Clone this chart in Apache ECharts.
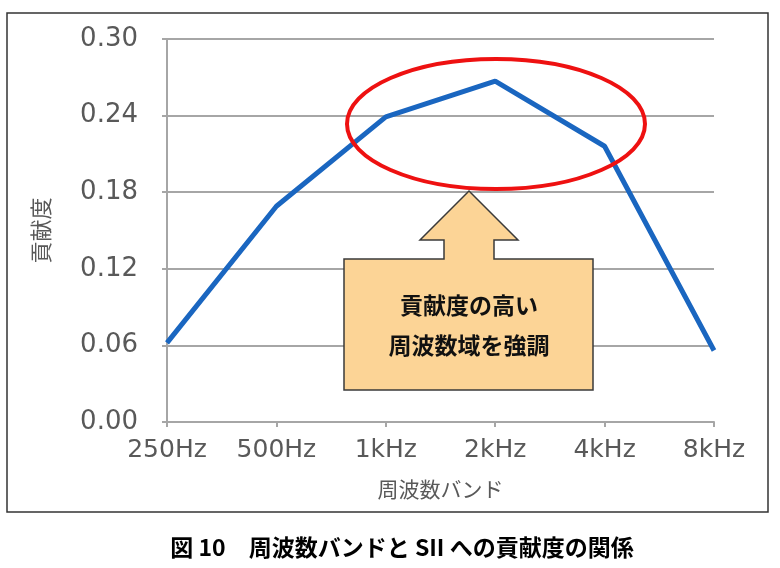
<!DOCTYPE html>
<html>
<head>
<meta charset="utf-8">
<script src="https://cdn.jsdelivr.net/npm/echarts@6/dist/echarts.min.js"></script>
<style>
  html, body { margin: 0; padding: 0; background: #fff; }
  #chart { width: 780px; height: 568px; }
</style>
</head>
<body>
<div id="chart"></div>
<script>
// 周波数バンドごとの貢献度
const bands = ['250Hz', '500Hz', '1kHz', '2kHz', '4kHz', '8kHz'];
const contribution = [0.062, 0.169, 0.239, 0.267, 0.216, 0.056];
const yTicks = { min: 0, max: 0.30, step: 0.06 };

const captionText = '図 10　周波数バンドと SII への貢献度の関係';
const calloutLines = ['貢献度の高い', '周波数域を強調'];

const myChart = echarts.init(document.getElementById('chart'));

const gray = '#595959';
const gridGray = '#a6a6a6';
const numFont = 'DejaVu Sans';

const option = {
  backgroundColor: '#fff',
  animation: false,
  grid: { left: 167, right: 66, top: 39, bottom: 146 },
  xAxis: {
    type: 'category',
    data: bands,
    boundaryGap: false,
    name: '周波数バンド',
    nameLocation: 'middle',
    nameGap: 57,
    nameTextStyle: { color: gray, fontSize: 21, fontFamily: 'Noto Sans CJK JP' },
    axisLine: { lineStyle: { color: gridGray, width: 2 } },
    axisTick: { show: true, length: 5, alignWithLabel: true, lineStyle: { color: gridGray, width: 2 } },
    axisLabel: { color: gray, fontSize: 25, fontFamily: numFont, margin: 16 }
  },
  yAxis: {
    type: 'value',
    min: yTicks.min,
    max: yTicks.max,
    interval: yTicks.step,
    name: '貢献度',
    nameLocation: 'middle',
    nameGap: 115,
    nameRotate: 90,
    nameTextStyle: { color: gray, fontSize: 22, fontFamily: 'Noto Sans CJK JP' },
    axisLine: { show: true, lineStyle: { color: gridGray, width: 2 } },
    axisTick: { show: true, length: 5, lineStyle: { color: gridGray, width: 2 } },
    axisLabel: {
      color: gray, fontSize: 26, fontFamily: numFont, margin: 29,
      formatter: v => v.toFixed(2)
    },
    splitLine: { lineStyle: { color: gridGray, width: 2 } }
  },
  series: [{
    type: 'line',
    data: contribution,
    symbol: 'none',
    lineStyle: { color: '#1a66c0', width: 5 },
    z: 3
  }],
  graphic: [
    // 外枠
    {
      type: 'rect',
      shape: { x: 7, y: 13, width: 761, height: 499 },
      style: { fill: 'none', stroke: '#333', lineWidth: 1.5 },
      z: 0
    },
    // 赤い楕円
    {
      type: 'ellipse',
      shape: { cx: 496, cy: 124, rx: 149, ry: 65 },
      style: { fill: 'none', stroke: '#ee1111', lineWidth: 4 },
      z: 10
    },
    // 矢印付きの吹き出し
    {
      type: 'polygon',
      shape: {
        points: [
          [344, 259], [444, 259], [444, 240], [420, 240], [469, 191],
          [518, 240], [494, 240], [494, 259], [593, 259], [593, 390], [344, 390]
        ]
      },
      style: { fill: '#fcd496', stroke: '#3a3a3a', lineWidth: 1.5 },
      z: 11
    },
    {
      type: 'text',
      x: 469, y: 305,
      style: {
        text: calloutLines[0], fill: '#111', fontSize: 23, fontWeight: 'bold',
        fontFamily: 'Noto Sans CJK JP', align: 'center', verticalAlign: 'middle'
      },
      z: 12
    },
    {
      type: 'text',
      x: 469, y: 345,
      style: {
        text: calloutLines[1], fill: '#111', fontSize: 23, fontWeight: 'bold',
        fontFamily: 'Noto Sans CJK JP', align: 'center', verticalAlign: 'middle'
      },
      z: 12
    },
    // 図のキャプション
    {
      type: 'text',
      x: 402, y: 547,
      style: {
        text: captionText, fill: '#000', fontSize: 23, fontWeight: 'bold',
        fontFamily: 'Noto Sans CJK JP', align: 'center', verticalAlign: 'middle'
      }
    }
  ]
};

myChart.setOption(option);
</script>
</body>
</html>
